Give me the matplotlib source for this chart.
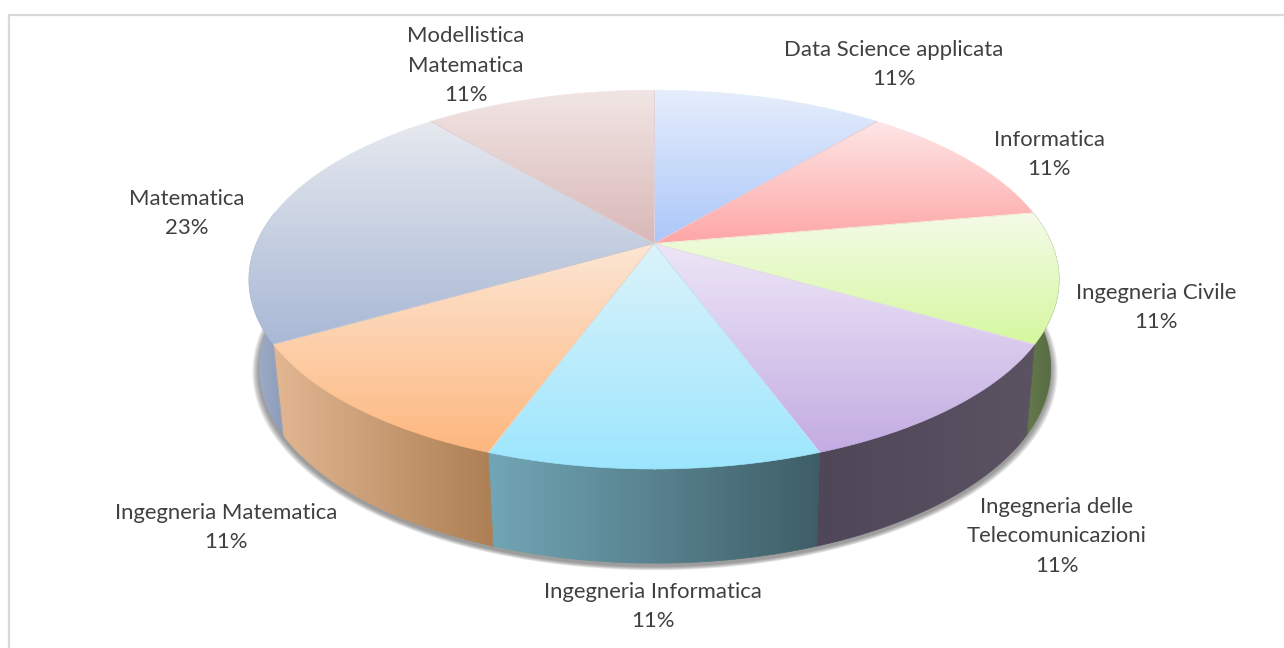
import numpy as np
import matplotlib
matplotlib.use('Agg')
import matplotlib.pyplot as plt
from matplotlib.collections import LineCollection
from matplotlib.colors import LinearSegmentedColormap
from matplotlib.patches import Polygon

# Dati del grafico
categorie = ['Data Science applicata', 'Informatica', 'Ingegneria Civile',
             'Ingegneria delle\nTelecomunicazioni', 'Ingegneria Informatica',
             'Ingegneria Matematica', 'Matematica', 'Modellistica\nMatematica']
valori = [1, 1, 1, 1, 1, 1, 2, 1]
percentuali = ['11%', '11%', '11%', '11%', '11%', '11%', '23%', '11%']

# Posizioni delle etichette (pixel)
pos_etichette = [(894, 64.5), (1049, 154.5), (1156, 307.5), (1057, 536.5),
                 (653, 606.5), (226, 527.5), (187, 213.5), (466, 65.5)]

# Colori: faccia superiore (chiaro, saturo) e parete laterale (sinistra, destra)
col_top = [('#e6eefc', '#abc7f9'), ('#fde6e6', '#ffa6a6'), ('#f4fbe8', '#d6f8a0'),
           ('#eee6f7', '#c3ace2'), ('#dcf3fa', '#9ce6fe'), ('#fce6d4', '#feb77e'),
           ('#e6e9ef', '#a9b8d5'), ('#f1e6e4', '#d9b8b8')]
col_lato = [('#8a9cc0', '#7488a8'), ('#b08080', '#a07070'), ('#667a4c', '#526840'),
            ('#4f4658', '#5b5362'), ('#72a6b6', '#3e5e67'), ('#e2b792', '#ad7f54'),
            ('#a3b0ca', '#8b9bb8'), ('#a89090', '#988080')]

# Proiezione prospettica del disco
CX, CY = 654, 243.5
AX, AY = 397.6, 182.5
K = 0.1905
SCALA_X, SCALA_Y, DY = 0.977, 1.03, 87.5
DX_BASE = 1


def proietta(t, base=False):
    t = np.radians(t)
    u, v = np.sin(t), np.cos(t)
    w = 1 + K * v
    x, y = AX * u / w, -AY * v / w
    if base:
        return np.column_stack([CX + DX_BASE + SCALA_X * x, CY + SCALA_Y * y + DY])
    return np.column_stack([CX + x, CY + y])


def riempi_gradiente(ax, punti, colori, verticale, zorder):
    cmap = LinearSegmentedColormap.from_list('g', colori)
    patch = Polygon(punti, closed=True, fc='none', ec='none', zorder=zorder)
    ax.add_patch(patch)
    x0, y0 = punti.min(axis=0)
    x1, y1 = punti.max(axis=0)
    g = np.linspace(0, 1, 256)
    g = g.reshape(-1, 1) if verticale else g.reshape(1, -1)
    im = ax.imshow(g, cmap=cmap, extent=(x0, x1, y1, y0), aspect='auto',
                   interpolation='bilinear', zorder=zorder)
    im.set_clip_path(patch)
    # bordo sottile con lo stesso gradiente, per ammorbidire il ritaglio
    chiuso = np.vstack([punti, punti[:1]])
    segmenti = np.stack([chiuso[:-1], chiuso[1:]], axis=1)
    if verticale:
        pos = (segmenti[:, :, 1].mean(axis=1) - y0) / (y1 - y0)
    else:
        pos = (segmenti[:, :, 0].mean(axis=1) - x0) / (x1 - x0)
    ax.add_collection(LineCollection(segmenti, colors=cmap(pos), linewidths=0.5,
                                     zorder=zorder + 0.1))


plt.rcParams['font.family'] = ['Lato', 'DejaVu Sans']
fig = plt.figure(figsize=(12.84, 6.48), dpi=100)
ax = fig.add_axes([0, 0, 1, 1])
ax.set_axis_off()

# Cornice: si vedono solo i lati in alto e a sinistra
ax.plot([9, 9, 1284], [648, 15, 15], color='#d9d9d9', lw=1.6, zorder=0.2)

# Ombra sotto la torta
giro = np.linspace(0, 360, 361)
base = proietta(giro, base=True)
for r in range(7, 0, -1):
    c = np.array([CX, CY + DY])
    scala = 1 + r / 400
    ax.add_patch(Polygon(c + (base - c) * scala + [0, 3], closed=True,
                         fc='#555555', ec='none', alpha=0.11, zorder=0.5))

angoli = np.r_[0, np.cumsum(valori)] / np.sum(valori) * 360

# Pareti laterali visibili
for i in range(len(valori)):
    a0, a1 = max(angoli[i], 80), min(angoli[i + 1], 280)
    if a1 <= a0:
        continue
    t = np.linspace(a0, a1, 80)
    punti = np.vstack([proietta(t), proietta(t[::-1], base=True)])
    riempi_gradiente(ax, punti, col_lato[i], verticale=False, zorder=2)

# Faccia superiore
for i in range(len(valori)):
    t = np.linspace(angoli[i], angoli[i + 1], 120)
    punti = np.vstack([[CX, CY], proietta(t)])
    riempi_gradiente(ax, punti, col_top[i], verticale=True, zorder=3)

# Etichette
for nome, pct, (x, y) in zip(categorie, percentuali, pos_etichette):
    ax.text(x, y, nome + '\n' + pct, ha='center', va='center', fontsize=15.9,
            color='#404040', linespacing=1.58, zorder=5)

ax.set_xlim(0, 1284)
ax.set_ylim(648, 0)
fig.savefig('out.png', dpi=100, facecolor='white')
